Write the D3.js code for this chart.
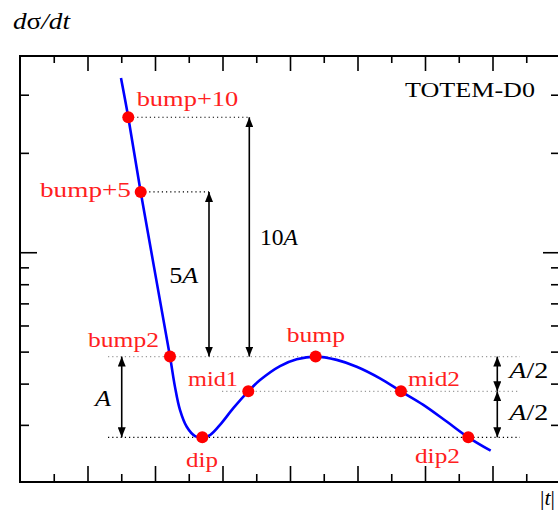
<!DOCTYPE html>
<html><head><meta charset="utf-8">
<script src="https://cdn.jsdelivr.net/npm/d3@7"></script>
<style>body{margin:0;background:#fff} svg{display:block} text{font-family:"Liberation Serif","DejaVu Serif",serif;}</style>
</head><body><svg id="c" width="558" height="515"></svg>
<script>
// ---- data ----
const curveT = [0.1496,0.1604,0.1788,0.2222,0.2296,0.237,0.247,0.2593,0.2701,0.2815,0.2963,0.316,0.3382,0.3556,0.3852,0.41,0.438,0.4692,0.4988,0.5333,0.5644,0.5975,0.6321,0.6641,0.6973];
const curveV = [33.7,25.63,15.23,4.83,3.91,3.33,2.96,2.775,2.75,2.795,3.00,3.37,3.79,4.10,4.52,4.74,4.83,4.72,4.50,4.15,3.79,3.45,3.07,2.75,2.505];
const pointNames = ["bump+10","bump+5","bump2","dip","mid1","bump","mid2","dip2"];
const pointT = [0.1604,0.1788,0.2222,0.2701,0.3382,0.438,0.5644,0.6641];
const pointV = [25.63,15.23,4.83,2.75,3.79,4.83,3.79,2.75];
const guideV = [25.63,15.23,4.83,3.79,2.75];
const guideFromT = [0.1674,0.1852,0.1304,0.2993,0.1304];
const guideToT = [0.3397,0.28,0.7407,0.7407,0.7407];
const guideDark = [true,true,false,false,true];
const arrowT = [0.1507,0.28,0.3397,0.7071,0.7071];
const arrowFrom = [2.75,4.83,4.83,4.83,3.79];
const arrowTo = [4.83,15.23,25.63,3.79,2.75];
const arrowLabels = [["","A",""],["5","A",""],["10","A",""],["","A","/2"],["","A","/2"]];
const yMajorTicks = [10];
const yMinorTicks = [3,4,5,6,7,8,9,20,30];
const xMajorTicks = [0.1,0.2,0.3,0.4,0.5,0.6,0.7];
const xMinorTicks = [0.05,0.15,0.25,0.35,0.45,0.55,0.65,0.75];

// ---- layout ----
const L = 20, R = 560, T = 56, B = 482;
const labelOff = [[8.4,-11.6,101.6],[-100.7,5.3,91],[-82,-10,71],[-16.3,29.4,32],[-60.3,-5,50],[-29,-14.4,58.3],[7,-5,52],[-53.3,26,45]];
const arrowLabelOff = [[-26.7,9,16],[-39.7,8.6,29],[10.7,8.2,38],[12,4.5,39],[12,6,39]];
const serif = "Liberation Serif, DejaVu Serif, serif";

const svg = d3.select("#c");
const x = d3.scaleLinear().domain([0,0.8]).range([L,R]);
const y = d3.scaleLog().domain([2.014,39.3]).range([B,T]);

const defs = svg.append("defs");
defs.append("marker").attr("id","ah").attr("viewBox","0 0 10 8").attr("refX",10).attr("refY",4)
  .attr("markerWidth",10).attr("markerHeight",8).attr("markerUnits","userSpaceOnUse").attr("orient","auto-start-reverse")
  .append("path").attr("d","M0,0L10,4L0,8Z").attr("fill","#000");

function ax(gen, vals, size, tr){
  const g = svg.append("g").attr("transform",tr).call(gen.tickValues(vals).tickSize(size).tickFormat(""));
  g.select(".domain").remove();
  g.selectAll("line").attr("stroke","#000").attr("stroke-width",1.6);
}
ax(d3.axisLeft(y), yMajorTicks, -17, `translate(${L},0)`);
ax(d3.axisLeft(y), yMinorTicks, -9, `translate(${L},0)`);
ax(d3.axisRight(y), yMajorTicks, -17, `translate(${R},0)`);
ax(d3.axisRight(y), yMinorTicks, -9, `translate(${R},0)`);
ax(d3.axisBottom(x), xMajorTicks, -16, `translate(0,${B})`);
ax(d3.axisBottom(x), xMinorTicks, -8, `translate(0,${B})`);
ax(d3.axisTop(x), xMajorTicks, -15, `translate(0,${T})`);
ax(d3.axisTop(x), xMinorTicks, -7, `translate(0,${T})`);
svg.append("rect").attr("x",L).attr("y",T).attr("width",R-L).attr("height",B-T)
  .attr("fill","none").attr("stroke","#000").attr("stroke-width",2);

guideV.forEach((v,i)=>{
  svg.append("line").attr("x1",x(guideFromT[i])).attr("x2",x(guideToT[i]))
    .attr("y1",y(v)).attr("y2",y(v))
    .attr("stroke",guideDark[i]?"#000":"#9a9a9a").attr("stroke-width",1.1)
    .attr("stroke-dasharray","1.2,3");
});

arrowT.forEach((t,i)=>{
  svg.append("line").attr("x1",x(t)).attr("x2",x(t)).attr("y1",y(arrowFrom[i])).attr("y2",y(arrowTo[i]))
    .attr("stroke","#000").attr("stroke-width",1.6)
    .attr("marker-start","url(#ah)").attr("marker-end","url(#ah)");
  const my = (y(arrowFrom[i])+y(arrowTo[i]))/2;
  const tx = svg.append("text").attr("x",x(t)+arrowLabelOff[i][0]).attr("y",my+arrowLabelOff[i][1])
    .style("font-family",serif).style("font-size","23px").attr("fill","#000")
    .attr("textLength",arrowLabelOff[i][2]).attr("lengthAdjust","spacingAndGlyphs");
  const p = arrowLabels[i];
  if(p[0]) tx.append("tspan").text(p[0]);
  tx.append("tspan").style("font-style","italic").text(p[1]);
  if(p[2]) tx.append("tspan").text(p[2]);
});

const line = d3.line().x(d=>x(d[0])).y(d=>y(d[1])).curve(d3.curveCatmullRom.alpha(0.5));
svg.append("path").datum(curveT.map((t,i)=>[t,curveV[i]])).attr("d",line)
  .attr("fill","none").attr("stroke","#0000ff").attr("stroke-width",2.6);

pointT.forEach((t,i)=>{
  svg.append("circle").attr("cx",x(t)).attr("cy",y(pointV[i])).attr("r",6).attr("fill","#ff0000");
  svg.append("text").attr("x",x(t)+labelOff[i][0]).attr("y",y(pointV[i])+labelOff[i][1])
    .style("font-family",serif).style("font-size","22px").attr("fill","#ff2020")
    .attr("textLength",labelOff[i][2]).attr("lengthAdjust","spacingAndGlyphs")
    .text(pointNames[i]);
});

svg.append("text").attr("x",405).attr("y",96.7).style("font-family",serif).style("font-size","22px")
  .attr("textLength",130).attr("lengthAdjust","spacingAndGlyphs").text("TOTEM-D0");
const yl = svg.append("text").attr("x",13).attr("y",29).style("font-family",serif).style("font-size","23px")
  .attr("textLength",57).attr("lengthAdjust","spacingAndGlyphs");
yl.append("tspan").style("font-style","italic").text("d");
yl.append("tspan").text("σ");
yl.append("tspan").style("font-style","italic").text("/dt");
const xl = svg.append("text").attr("x",540).attr("y",505).style("font-family",serif).style("font-size","22px");
xl.append("tspan").text("|");
xl.append("tspan").style("font-style","italic").text("t");
xl.append("tspan").text("|");
</script></body></html>
